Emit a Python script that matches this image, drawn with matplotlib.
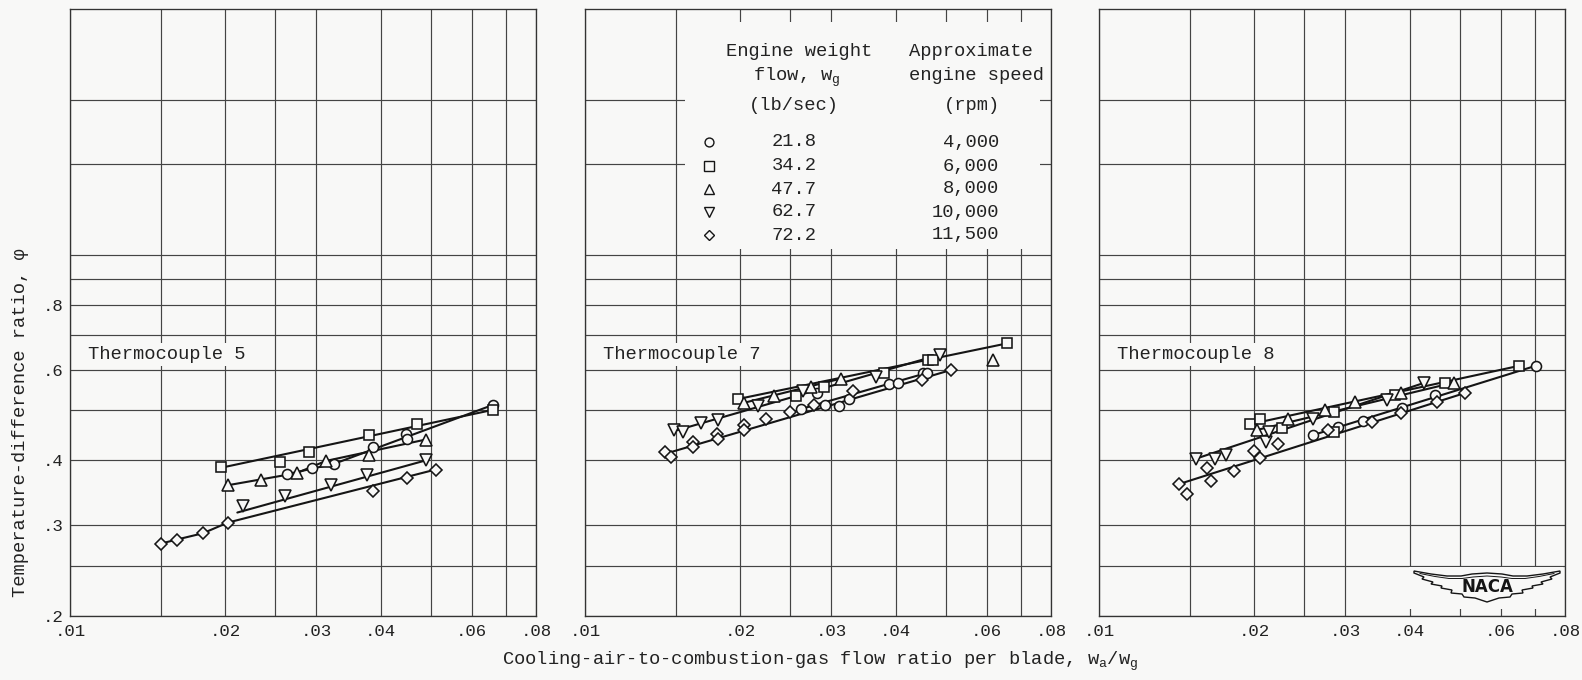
import matplotlib
matplotlib.use("Agg")
import matplotlib.pyplot as plt
from matplotlib.lines import Line2D
from matplotlib.patches import Rectangle, Polygon
from matplotlib.ticker import FixedLocator, FixedFormatter, NullFormatter

plt.rcParams['font.family'] = ['Liberation Mono', 'DejaVu Sans Mono']
plt.rcParams['mathtext.fontset'] = 'custom'
plt.rcParams['mathtext.rm'] = 'Liberation Mono'
plt.rcParams['mathtext.it'] = 'Liberation Mono'

# ---- measured points (cooling-air flow ratio, temperature-difference ratio) ----
# Thermocouple 5
tc5_circle = [(0.0263, 0.376), (0.0294, 0.387), (0.0325, 0.394), (0.0387, 0.424),
              (0.0447, 0.451), (0.0449, 0.441), (0.0659, 0.512)]
tc5_square = [(0.0196, 0.389), (0.0255, 0.398), (0.0291, 0.415), (0.0380, 0.448),
              (0.0471, 0.470), (0.0659, 0.501)]
tc5_tri_up = [(0.0202, 0.358), (0.0234, 0.367), (0.0275, 0.378), (0.0313, 0.399),
              (0.0380, 0.409), (0.0489, 0.439)]
tc5_tri_down = [(0.0216, 0.327), (0.0261, 0.341), (0.0321, 0.358), (0.0377, 0.374),
                (0.0489, 0.400)]
tc5_diamond = [(0.0150, 0.276), (0.0161, 0.281), (0.0181, 0.289), (0.0202, 0.303),
               (0.0386, 0.349), (0.0449, 0.370), (0.0511, 0.384)]

# Thermocouple 7
tc7_circle = [(0.0262, 0.503), (0.0282, 0.540), (0.0292, 0.512), (0.0311, 0.509),
              (0.0325, 0.526), (0.0389, 0.563), (0.0404, 0.566), (0.0452, 0.592),
              (0.0460, 0.591)]
tc7_square = [(0.0198, 0.526), (0.0256, 0.533), (0.0291, 0.556), (0.0380, 0.592),
              (0.0462, 0.627), (0.0473, 0.627), (0.0657, 0.674)]
tc7_tri_up = [(0.0203, 0.517), (0.0232, 0.533), (0.0274, 0.556), (0.0313, 0.576),
              (0.0617, 0.627)]
tc7_tri_down = [(0.0149, 0.458), (0.0155, 0.454), (0.0168, 0.472), (0.0181, 0.479),
                (0.0216, 0.509), (0.0264, 0.544), (0.0367, 0.580), (0.0487, 0.641)]
tc7_diamond = [(0.0143, 0.415), (0.0147, 0.406), (0.0162, 0.434), (0.0162, 0.425),
               (0.0180, 0.451), (0.0181, 0.441), (0.0203, 0.468), (0.0203, 0.458),
               (0.0224, 0.481), (0.0250, 0.497), (0.0278, 0.512), (0.0330, 0.544),
               (0.0449, 0.573), (0.0513, 0.599)]

# Thermocouple 8
tc8_circle = [(0.0260, 0.448), (0.0291, 0.464), (0.0325, 0.476), (0.0386, 0.505),
              (0.0448, 0.536), (0.0702, 0.610)]
tc8_square = [(0.0196, 0.470), (0.0205, 0.482), (0.0226, 0.463), (0.0286, 0.497),
              (0.0286, 0.455), (0.0375, 0.536), (0.0468, 0.566), (0.0652, 0.610)]
tc8_tri_up = [(0.0202, 0.458), (0.0232, 0.482), (0.0274, 0.501), (0.0313, 0.520),
              (0.0385, 0.540), (0.0487, 0.566)]
tc8_tri_down = [(0.0154, 0.403), (0.0168, 0.403), (0.0176, 0.409), (0.0211, 0.434),
                (0.0214, 0.455), (0.0260, 0.482), (0.0361, 0.524), (0.0426, 0.565)]
tc8_diamond = [(0.0143, 0.360), (0.0148, 0.344), (0.0162, 0.387), (0.0165, 0.365),
               (0.0183, 0.382), (0.0200, 0.418), (0.0205, 0.404), (0.0222, 0.431),
               (0.0278, 0.459), (0.0338, 0.475), (0.0385, 0.495), (0.0452, 0.519),
               (0.0511, 0.540)]

# ---- faired curves through each speed ----
tc5_circle_fair = [(0.0263, 0.376), (0.0325, 0.394), (0.0659, 0.512)]
tc5_square_fair = [(0.0196, 0.387), (0.0659, 0.501)]
tc5_tri_up_fair = [(0.0202, 0.358), (0.0275, 0.378), (0.0313, 0.399), (0.0489, 0.439)]
tc5_tri_down_fair = [(0.0211, 0.317), (0.0489, 0.400)]
tc5_diamond_fair = [(0.0150, 0.276), (0.0161, 0.281), (0.0181, 0.289), (0.0202, 0.303),
                    (0.0511, 0.384)]

tc7_circle_fair = [(0.0262, 0.503), (0.0460, 0.591)]
tc7_square_fair = [(0.0198, 0.526), (0.0657, 0.674)]
tc7_tri_up_fair = [(0.0203, 0.517), (0.0313, 0.576)]
tc7_tri_down_fair = [(0.0149, 0.456), (0.0487, 0.641)]
tc7_diamond_fair = [(0.0143, 0.412), (0.0513, 0.599)]

tc8_circle_fair = [(0.0260, 0.448), (0.0702, 0.610)]
tc8_square_fair = [(0.0196, 0.470), (0.0652, 0.610)]
tc8_tri_up_fair = [(0.0202, 0.458), (0.0487, 0.566)]
tc8_tri_down_fair = [(0.0154, 0.403), (0.0426, 0.565)]
tc8_diamond_fair = [(0.0143, 0.360), (0.0511, 0.540)]

panel_titles = ['Thermocouple 5', 'Thermocouple 7', 'Thermocouple 8']

# key
key_markers = ['o', 's', '^', 'v', 'D']
key_flow = ['21.8', '34.2', '47.7', '62.7', '72.2']
key_speed = ['4,000', '6,000', '8,000', '10,000', '11,500']

# axes scales
x_label_ticks = [0.01, 0.02, 0.03, 0.04, 0.06, 0.08]
x_labels = ['.01', '.02', '.03', '.04', '.06', '.08']
x_grid = [0.015, 0.025, 0.05, 0.07]
y_label_ticks = [0.2, 0.3, 0.4, 0.6, 0.8]
y_labels = ['.2', '.3', '.4', '.6', '.8']
y_grid = [0.25, 0.5, 0.7, 0.9, 1.0, 1.5, 2.0]

# ---- layout (pixels) ----
W, H = 1582, 680
AX_LEFTS = [70, 585, 1099]
AX_W = 466
AX_TOP, AX_BOT = 8.7, 615.8
AX_H = AX_BOT - AX_TOP

BG = '#f8f8f7'
INK = '#151515'
GRID = '#444444'
TXT = '#222222'

marker_size = {'o': 7.2, 's': 7.4, '^': 8.2, 'v': 8.2, 'D': 6.0}


def fig_xy(x, y):
    return x / W, 1 - y / H


fig = plt.figure(figsize=(W / 100, H / 100), dpi=100, facecolor=BG)

panels = [
    (tc5_circle, tc5_square, tc5_tri_up, tc5_tri_down, tc5_diamond),
    (tc7_circle, tc7_square, tc7_tri_up, tc7_tri_down, tc7_diamond),
    (tc8_circle, tc8_square, tc8_tri_up, tc8_tri_down, tc8_diamond),
]
fairs = [
    (tc5_circle_fair, tc5_square_fair, tc5_tri_up_fair, tc5_tri_down_fair, tc5_diamond_fair),
    (tc7_circle_fair, tc7_square_fair, tc7_tri_up_fair, tc7_tri_down_fair, tc7_diamond_fair),
    (tc8_circle_fair, tc8_square_fair, tc8_tri_up_fair, tc8_tri_down_fair, tc8_diamond_fair),
]

axes = []
for i, left in enumerate(AX_LEFTS):
    ax = fig.add_axes([left / W, 1 - AX_BOT / H, AX_W / W, AX_H / H])
    ax.set_facecolor(BG)
    ax.set_xscale('log')
    ax.set_yscale('log')
    ax.set_xlim(0.01, 0.08)
    ax.set_ylim(0.2, 3.0)
    ax.set_axisbelow(True)

    ax.xaxis.set_major_locator(FixedLocator(x_label_ticks))
    ax.xaxis.set_major_formatter(FixedFormatter(x_labels))
    ax.xaxis.set_minor_locator(FixedLocator(x_grid))
    ax.xaxis.set_minor_formatter(NullFormatter())
    ax.yaxis.set_major_locator(FixedLocator(y_label_ticks))
    if i == 0:
        ax.yaxis.set_major_formatter(FixedFormatter(y_labels))
    else:
        ax.yaxis.set_major_formatter(NullFormatter())
    ax.yaxis.set_minor_locator(FixedLocator(y_grid))
    ax.yaxis.set_minor_formatter(NullFormatter())

    ax.tick_params(which='both', length=0, labelsize=12.5, colors=TXT)
    ax.tick_params(axis='x', pad=6)
    ax.tick_params(axis='y', pad=5)
    ax.grid(True, which='both', color=GRID, lw=0.85)
    for sp in ax.spines.values():
        sp.set_color('#333333')
        sp.set_linewidth(0.95)

    for pts in fairs[i]:
        fx, fy = zip(*pts)
        ax.plot(fx, fy, color=INK, lw=1.5, zorder=3, solid_capstyle='round')
    for pts, mk in zip(panels[i], key_markers):
        px, py = zip(*pts)
        ax.plot(px, py, ls='none', marker=mk, mfc=BG, mec=INK, mew=1.15,
                ms=marker_size[mk], zorder=4)

    ax.text(0.0376, 0.43, panel_titles[i], transform=ax.transAxes, fontsize=13.5,
            ha='left', va='center', color=TXT, zorder=5,
            bbox=dict(boxstyle='square,pad=0.15', fc=BG, ec='none'))
    axes.append(ax)

# ---- key, in the middle panel ----
ax2 = axes[1]
x0 = (685 - AX_LEFTS[1]) / AX_W
x1 = (1040 - AX_LEFTS[1]) / AX_W
y0 = (AX_BOT - 249) / AX_H
y1 = (AX_BOT - 22) / AX_H
ax2.add_patch(Rectangle((x0, y0), x1 - x0, y1 - y0, transform=ax2.transAxes,
                        fc=BG, ec='none', zorder=1))

head_kw = dict(fontsize=13.5, color=TXT, ha='center', va='center')
fig.text(*fig_xy(799, 52), 'Engine weight', **head_kw)
fig.text(*fig_xy(797, 77), r'flow, w$_{\rm g}$', **head_kw)
fig.text(*fig_xy(794, 105), '(lb/sec)', **head_kw)
fig.text(*fig_xy(971, 52), 'Approximate', **head_kw)
fig.text(*fig_xy(977, 75), 'engine speed', **head_kw)
fig.text(*fig_xy(972, 105), '(rpm)', **head_kw)

row_y = [142, 166, 189, 212, 235]
for mk, flow, speed, ry in zip(key_markers, key_flow, key_speed, row_y):
    mx, my = fig_xy(709, ry)
    fig.add_artist(Line2D([mx], [my], ls='none', marker=mk, mfc=BG, mec=INK, mew=1.0,
                          ms=marker_size[mk] - 0.8, transform=fig.transFigure))
    fig.text(*fig_xy(794, ry), flow, fontsize=13.5, color=TXT, ha='center', va='center')
    fig.text(*fig_xy(999, ry), speed, fontsize=13.5, color=TXT, ha='right', va='center')

# ---- NACA wings, lower right of last panel ----
ax3 = axes[2]
cx, cy = 1487, 585


def ax3_xy(dx, dy):
    return ((cx + dx - AX_LEFTS[2]) / AX_W, (AX_BOT - (cy + dy)) / AX_H)


bx0, by0 = ax3_xy(-78, 24)
bx1, by1 = ax3_xy(76, -18)
ax3.add_patch(Rectangle((bx0, by0), bx1 - bx0, by1 - by0, transform=ax3.transAxes,
                        fc=BG, ec='none', zorder=1))

# left half of the outline; the right half mirrors it
top_edge = [(-73, -14), (-56, -11), (-40, -9), (-26, -9), (-15, -11), (0, -12)]
low_edge = [(-73, -12), (-63, -8), (-65, -6), (-54, -3), (-56, -1), (-45, 1),
            (-46, 3), (-35, 5), (-36, 8), (-25, 9), (-23, 12), (-12, 13), (0, 17)]
outline = top_edge + [(-x, y) for x, y in top_edge[-2::-1]]
outline += [(-x, y) for x, y in low_edge] + low_edge[-2::-1]
ax3.add_patch(Polygon([ax3_xy(dx, dy) for dx, dy in outline], closed=True,
                      transform=ax3.transAxes, fc=BG, ec=INK, lw=1.0, zorder=5))
inner_top = [(-67, -11.5), (-52, -8.5), (-38, -6.5), (-25, -6.5), (-14, -8), (0, -9)]
inner = inner_top + [(-x, y) for x, y in inner_top[-2::-1]]
ix, iy = zip(*[ax3_xy(dx, dy) for dx, dy in inner])
ax3.plot(ix, iy, transform=ax3.transAxes, color=INK, lw=0.7, zorder=6)
ax3.text(*ax3_xy(0, 1.5), 'NACA', transform=ax3.transAxes, family='DejaVu Sans',
         fontsize=12, weight='bold', ha='center', va='center', color=INK, zorder=7)

# ---- axis titles ----
fig.text(*fig_xy(21, 423), 'Temperature-difference ratio, φ', rotation=90,
         fontsize=13.5, ha='center', va='center', color=TXT)
fig.text(*fig_xy(820, 661),
         r'Cooling-air-to-combustion-gas flow ratio per blade, w$_{\rm a}$/w$_{\rm g}$',
         fontsize=13.5, ha='center', va='center', color=TXT)

fig.savefig('out.png', dpi=100, facecolor=BG)
